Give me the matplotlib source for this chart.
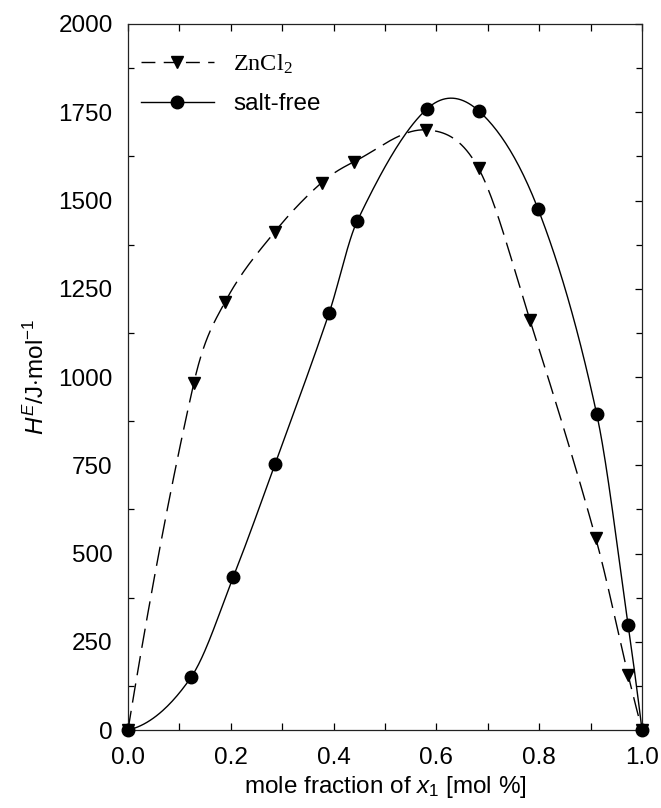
import numpy as np
import matplotlib
matplotlib.use('Agg')
import matplotlib.pyplot as plt
from matplotlib.lines import Line2D
from matplotlib.ticker import MultipleLocator

plt.rcParams['font.family'] = 'Liberation Sans'
plt.rcParams['mathtext.fontset'] = 'custom'
plt.rcParams['mathtext.rm'] = 'Liberation Sans'
plt.rcParams['mathtext.it'] = 'Liberation Sans:italic'

# data
x_zn = [0.0, 0.128, 0.189, 0.286, 0.377, 0.440, 0.579, 0.682, 0.782, 0.910, 0.973, 1.0]
h_zn = [0, 982, 1213, 1412, 1551, 1610, 1700, 1591, 1161, 543, 156, 0]

x_free = [0.0, 0.123, 0.205, 0.286, 0.391, 0.446, 0.582, 0.683, 0.798, 0.912, 0.973, 1.0]
h_free = [0, 150, 434, 753, 1180, 1442, 1760, 1753, 1475, 894, 297, 0]


def smooth_curve(x, y, n=40):
    # cubic hermite through the points, catmull-rom style slopes
    x = np.asarray(x, float)
    y = np.asarray(y, float)
    k = len(x)
    m = np.zeros(k)
    for i in range(1, k - 1):
        m[i] = (y[i + 1] - y[i - 1]) / (x[i + 1] - x[i - 1])
    m[0] = 2 * (y[1] - y[0]) / (x[1] - x[0]) - m[1]
    m[-1] = 2 * (y[-1] - y[-2]) / (x[-1] - x[-2]) - m[-2]
    xs, ys = [], []
    for i in range(k - 1):
        h = x[i + 1] - x[i]
        t = np.linspace(0, 1, n, endpoint=(i == k - 2))
        h00 = 2 * t**3 - 3 * t**2 + 1
        h10 = t**3 - 2 * t**2 + t
        h01 = -2 * t**3 + 3 * t**2
        h11 = t**3 - t**2
        xs.append(x[i] + t * h)
        ys.append(h00 * y[i] + h10 * h * m[i] + h01 * y[i + 1] + h11 * h * m[i + 1])
    return np.concatenate(xs), np.concatenate(ys)


fig = plt.figure(figsize=(6.61, 8.08), dpi=100)
ax = fig.add_axes([0.1936, 0.0965, 0.7777, 0.8738])

dash = (0, (14, 6))
xs, ys = smooth_curve(x_zn, h_zn)
ax.plot(xs, ys, color='black', lw=1.0, linestyle=dash)
ax.plot(x_zn, h_zn, 'v', color='black', ms=8.5, clip_on=False, zorder=3)

xs, ys = smooth_curve(x_free, h_free)
ax.plot(xs, ys, color='black', lw=1.0)
ax.plot(x_free, h_free, 'o', color='black', ms=9, clip_on=False, zorder=3)

ax.set_xlim(0, 1)
ax.set_ylim(0, 2000)
ax.xaxis.set_major_locator(MultipleLocator(0.2))
ax.xaxis.set_minor_locator(MultipleLocator(0.1))
ax.yaxis.set_major_locator(MultipleLocator(250))
ax.yaxis.set_minor_locator(MultipleLocator(125))
ax.tick_params(axis='x', which='both', direction='in', top=True, length=5,
               width=0.9, labelsize=17.5, pad=12)
ax.tick_params(axis='y', which='major', direction='in', left=False, right=True,
               length=5, width=0.9, labelsize=17.5, pad=11)
ax.tick_params(axis='y', which='minor', direction='in', left=True, right=True,
               length=4, width=0.9)
for s in ax.spines.values():
    s.set_linewidth(0.9)
    s.set_color('#222222')

ax.set_xlabel(r'mole fraction of $x_1$ [mol %]', fontsize=17.5, labelpad=4)
ax.set_ylabel(r'$H^{E}$/J$\cdot$mol$^{-1}$', fontsize=17.5, labelpad=7)

handles = [Line2D([], [], color='black', lw=1.0, linestyle=(0, (10, 6)), marker='v', ms=8.5),
           Line2D([], [], color='black', lw=1.0, marker='o', ms=9)]
leg = ax.legend(handles, [r'ZnCl$_\mathregular{2}$', 'salt-free'], loc='upper left',
                bbox_to_anchor=(0.025, 0.96), frameon=False, fontsize=17.5,
                handlelength=3.0, handletextpad=0.8, labelspacing=0.7,
                numpoints=1, borderpad=0, borderaxespad=0)
leg.get_texts()[0].set_fontfamily('Liberation Serif')

fig.savefig('out.png', dpi=100)
